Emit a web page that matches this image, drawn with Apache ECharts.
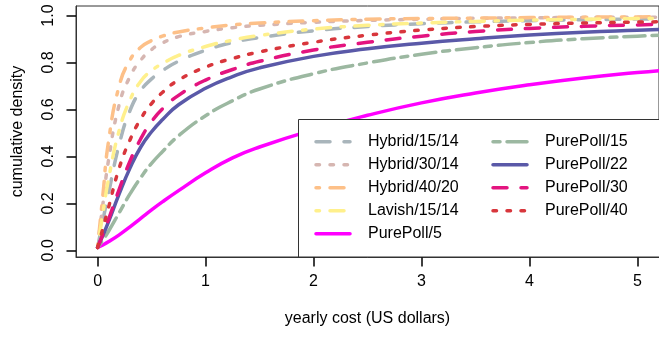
<!DOCTYPE html>
<html>
<head>
<meta charset="utf-8">
<script src="https://cdn.jsdelivr.net/npm/echarts@6/dist/echarts.min.js"></script>
<style>
html,body{margin:0;padding:0;background:#fff;}
#c{width:659px;height:337px;}
</style>
</head>
<body>
<div id="c"></div>
<script>
// ---- data ----
var xs = [0, 0.05, 0.1, 0.2, 0.3, 0.4, 0.5, 0.6, 0.75, 1, 1.25, 1.5, 2, 2.5, 3, 3.5, 4, 4.5, 5, 5.2];
var seriesNames = ["Hybrid/15/14", "Hybrid/30/14", "Hybrid/40/20", "Lavish/15/14", "PurePoll/5",
                   "PurePoll/15", "PurePoll/22", "PurePoll/30", "PurePoll/40"];
var hybrid_15_14 = [0.012, 0.13, 0.24, 0.45, 0.595, 0.68, 0.73, 0.765, 0.805, 0.852, 0.885, 0.906, 0.935, 0.953, 0.965, 0.973, 0.978, 0.982, 0.985, 0.986];
var hybrid_30_14 = [0.012, 0.2, 0.38, 0.62, 0.74, 0.81, 0.855, 0.883, 0.91, 0.932, 0.948, 0.958, 0.971, 0.979, 0.984, 0.988, 0.99, 0.992, 0.993, 0.993];
var hybrid_40_20 = [0.012, 0.24, 0.46, 0.7, 0.81, 0.865, 0.893, 0.912, 0.93, 0.947, 0.96, 0.968, 0.978, 0.984, 0.987, 0.989, 0.991, 0.993, 0.994, 0.995];
var lavish_15_14 = [0.012, 0.16, 0.3, 0.51, 0.64, 0.72, 0.765, 0.795, 0.83, 0.868, 0.895, 0.915, 0.942, 0.958, 0.968, 0.975, 0.98, 0.984, 0.987, 0.988];
var purepoll_5   = [0.012, 0.023, 0.036, 0.066, 0.1, 0.136, 0.172, 0.206, 0.254, 0.33, 0.394, 0.44, 0.513, 0.575, 0.628, 0.67, 0.705, 0.734, 0.757, 0.765];
var purepoll_15  = [0.012, 0.045, 0.08, 0.16, 0.24, 0.31, 0.37, 0.42, 0.488, 0.573, 0.637, 0.687, 0.752, 0.798, 0.835, 0.863, 0.885, 0.901, 0.912, 0.916];
var purepoll_22  = [0.012, 0.065, 0.12, 0.24, 0.35, 0.44, 0.505, 0.556, 0.62, 0.69, 0.74, 0.777, 0.826, 0.858, 0.882, 0.901, 0.917, 0.929, 0.937, 0.94];
var purepoll_30  = [0.012, 0.07, 0.13, 0.26, 0.38, 0.475, 0.548, 0.602, 0.66, 0.725, 0.77, 0.805, 0.853, 0.886, 0.912, 0.932, 0.945, 0.954, 0.96, 0.962];
var purepoll_40  = [0.012, 0.095, 0.18, 0.35, 0.47, 0.56, 0.625, 0.672, 0.725, 0.78, 0.817, 0.845, 0.886, 0.916, 0.938, 0.953, 0.962, 0.968, 0.972, 0.973];
var seriesValues = [hybrid_15_14, hybrid_30_14, hybrid_40_20, lavish_15_14, purepoll_5,
                    purepoll_15, purepoll_22, purepoll_30, purepoll_40];
var xTicks = [0, 1, 2, 3, 4, 5];
var yTicks = [0, 0.2, 0.4, 0.6, 0.8, 1.0];

// ---- styles ----
var colors = ["#a9b5bb", "#d6b6b1", "#fdc088", "#fff08c", "#ff00ff", "#9cb8a1", "#5a59a8", "#e3147f", "#d8363c"];
var dashes = [[14, 14], [3.5, 10.5], [3.5, 10.5, 14, 10.5], [3.5, 10.5, 14, 10.5], 'solid',
              [7, 7, 21, 7], 'solid', [14, 14], [3.5, 10.5]];
var LW = 3.5;
var FONT = '"Liberation Sans", Arial, Helvetica, sans-serif';
var AXC = '#333';
var X_MIN = -0.2, X_MAX = 5.2, Y_MIN = -0.0285, Y_MAX = 1.0405;

var series = seriesNames.map(function (name, i) {
  return {
    name: name,
    type: 'line',
    data: xs.map(function (x, j) { return [x, seriesValues[i][j]]; }),
    showSymbol: false,
    symbol: 'none',
    smooth: 0.5,
    lineStyle: { color: colors[i], width: LW, type: dashes[i], cap: 'round', join: 'round' },
    itemStyle: { color: colors[i] },
    z: 2 + i * 0.01,
    silent: true,
    animation: false
  };
});

// legend drawn as graphic (R-style boxed legend, two columns)
var legendGraphics = [{
  type: 'rect', z: 10,
  shape: { x: 298.5, y: 119.5, width: 380, height: 137.5 },
  style: { fill: '#fff', stroke: AXC, lineWidth: 1 }
}];
seriesNames.forEach(function (name, i) {
  var col = i < 5 ? 0 : 1;
  var row = i < 5 ? i : i - 5;
  var y = 141.7 + row * 23;
  var lx = col === 0 ? 316 : 493;
  var tx = col === 0 ? 368 : 545;
  legendGraphics.push({
    type: 'line', z: 11,
    shape: { x1: lx, y1: y, x2: lx + 34, y2: y },
    style: { stroke: colors[i], lineWidth: LW, lineCap: 'round',
             lineDash: dashes[i] === 'solid' ? null : dashes[i] }
  });
  legendGraphics.push({
    type: 'text', z: 11, x: tx, y: y,
    style: { text: name, fill: '#000', font: '16px ' + FONT, textVerticalAlign: 'middle', verticalAlign: 'middle' }
  });
});

var chart = echarts.init(document.getElementById('c'), null, { renderer: 'canvas' });
chart.setOption({
  animation: false,
  backgroundColor: '#fff',
  grid: { left: 76, top: 6, width: 586, height: 251, show: true, borderColor: AXC, borderWidth: 1 },
  xAxis: {
    type: 'value', min: X_MIN, max: X_MAX,
    name: 'yearly cost (US dollars)', nameLocation: 'middle', nameGap: 54,
    nameTextStyle: { fontSize: 16, color: '#000', fontFamily: FONT },
    axisLine: { show: true, onZero: false, lineStyle: { color: AXC, width: 1 } },
    axisTick: { show: true, length: 9.5, customValues: xTicks, lineStyle: { color: '#000', width: 1.5 } },
    axisLabel: { fontSize: 16, color: '#000', margin: 17, customValues: xTicks, fontFamily: FONT },
    splitLine: { show: false }
  },
  yAxis: {
    type: 'value', min: Y_MIN, max: Y_MAX,
    name: 'cumulative density', nameLocation: 'middle', nameGap: 50, nameRotate: 90,
    nameTextStyle: { fontSize: 16, color: '#000', fontFamily: FONT },
    axisLine: { show: true, onZero: false, lineStyle: { color: AXC, width: 1 } },
    axisTick: { show: true, length: 9.5, customValues: yTicks, lineStyle: { color: '#000', width: 1.5 } },
    axisLabel: { fontSize: 16, color: '#000', margin: 19, rotate: 90, customValues: yTicks, fontFamily: FONT,
                 formatter: function (v) { return v.toFixed(1); } },
    splitLine: { show: false }
  },
  graphic: legendGraphics,
  series: series
});
</script>
</body>
</html>
